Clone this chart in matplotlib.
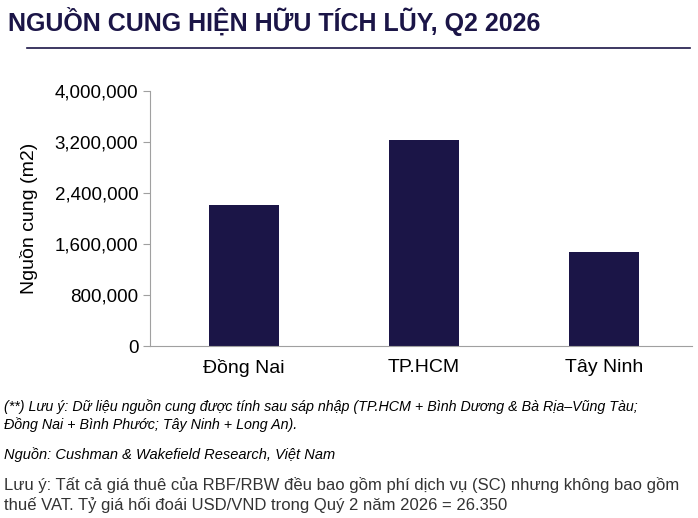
import matplotlib.pyplot as plt

plt.rcParams['font.family'] = ['Liberation Sans', 'DejaVu Sans']

NAVY = '#1b1547'
regions = ['Đồng Nai', 'TP.HCM', 'Tây Ninh']
supply = [2210000, 3230000, 1470000]
yticks = [0, 800000, 1600000, 2400000, 3200000, 4000000]

fig = plt.figure(figsize=(6.98, 5.18), dpi=100)
fig.text(0.012, 0.958, 'NGUỒN CUNG HIỆN HỮU TÍCH LŨY, Q2 2026', fontsize=18,
         fontweight='bold', color=NAVY, va='center')
fig.add_artist(plt.Line2D([0.039, 0.989], [0.907, 0.907], color=NAVY, lw=1.2))

ax = fig.add_axes([0.215, 0.332, 0.776, 0.492])
ax.bar(range(len(regions)), supply, width=0.39, color=NAVY)
ax.set_xlim(-0.522, 2.489)
ax.set_ylim(0, 4000000)
ax.set_yticks(yticks)
ax.set_yticklabels([f'{v:,}' for v in yticks], fontsize=13.5)
ax.set_xticks(range(len(regions)))
ax.set_xticklabels(regions, fontsize=14)
ax.set_ylabel('Nguồn cung (m2)', fontsize=14, labelpad=12)
for s in ['top', 'right']:
    ax.spines[s].set_visible(False)
for s in ['left', 'bottom']:
    ax.spines[s].set_color('#a0a0a0')
ax.tick_params(axis='y', color='#a0a0a0', length=5)
ax.tick_params(axis='x', length=0, pad=9)

fig.text(0.006, 0.197, '(**) Lưu ý: Dữ liệu nguồn cung được tính sau sáp nhập (TP.HCM + Bình Dương & Bà Rịa–Vũng Tàu;\n'
         'Đồng Nai + Bình Phước; Tây Ninh + Long An).', fontsize=10.3, style='italic', va='center',
         linespacing=1.25)
fig.text(0.006, 0.122, 'Nguồn: Cushman & Wakefield Research, Việt Nam', fontsize=10.5, style='italic', va='center')
fig.text(0.006, 0.045, 'Lưu ý: Tất cả giá thuê của RBF/RBW đều bao gồm phí dịch vụ (SC) nhưng không bao gồm\n'
         'thuế VAT. Tỷ giá hối đoái USD/VND trong Quý 2 năm 2026 = 26.350', fontsize=12, va='center',
         linespacing=1.3, color='#333333')

fig.savefig('out.png', dpi=100)
